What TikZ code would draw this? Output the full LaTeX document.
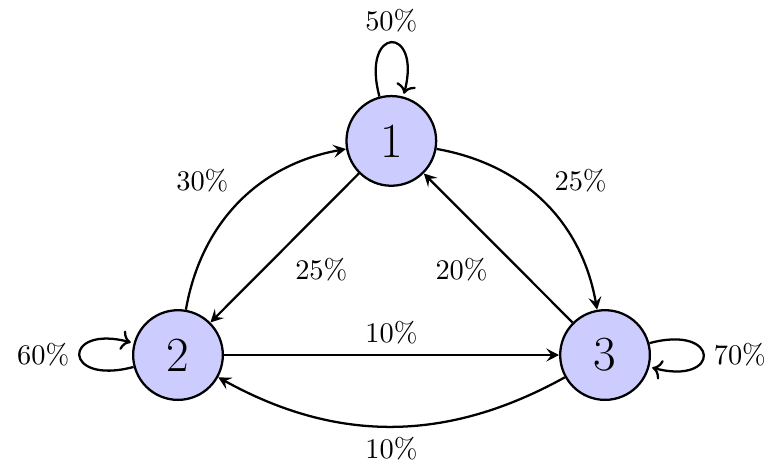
\documentclass[tikz,border=0pt]{standalone}
\usepackage{tikz}
\usetikzlibrary{arrows.meta, positioning}

\begin{document}
\begin{tikzpicture}[
    state/.style={circle, draw, thick, fill=blue!20, minimum size=1.11cm, inner sep=0pt, font=\LARGE},
    arrow/.style={-{Stealth[length=4.5pt, width=4.6pt, inset=1.8pt]}, thick}
]
\useasboundingbox (-2.203,-1.399) rectangle (7.302,4.394);

% States
\node[state] (s2) at (0,0) {2};
\node[state] (s3) at (5.285,0) {3};
\node[state] (s1) at (2.64,2.65) {1};

% Self loops
\draw[arrow] (s1) edge[loop above] node[above] {50\%} (s1);
\draw[arrow] (s2) edge[loop left] node[left] {60\%} (s2);
\draw[arrow] (s3) edge[loop right] node[right] {70\%} (s3);

% Transitions
\draw[arrow] (s1) -- node[below right] {25\%} (s2);
\draw[arrow] (s2) to[bend left=35] node[above left] {30\%} (s1);
\draw[arrow] (s1) to[bend left=35] node[above right] {25\%} (s3);
\draw[arrow] (s3) -- node[below left] {20\%} (s1);
\draw[arrow] (s2) -- node[above] {10\%} (s3);
\draw[arrow] (s3) to[bend left=29] node[below] {10\%} (s2);
\end{tikzpicture}
\end{document}
